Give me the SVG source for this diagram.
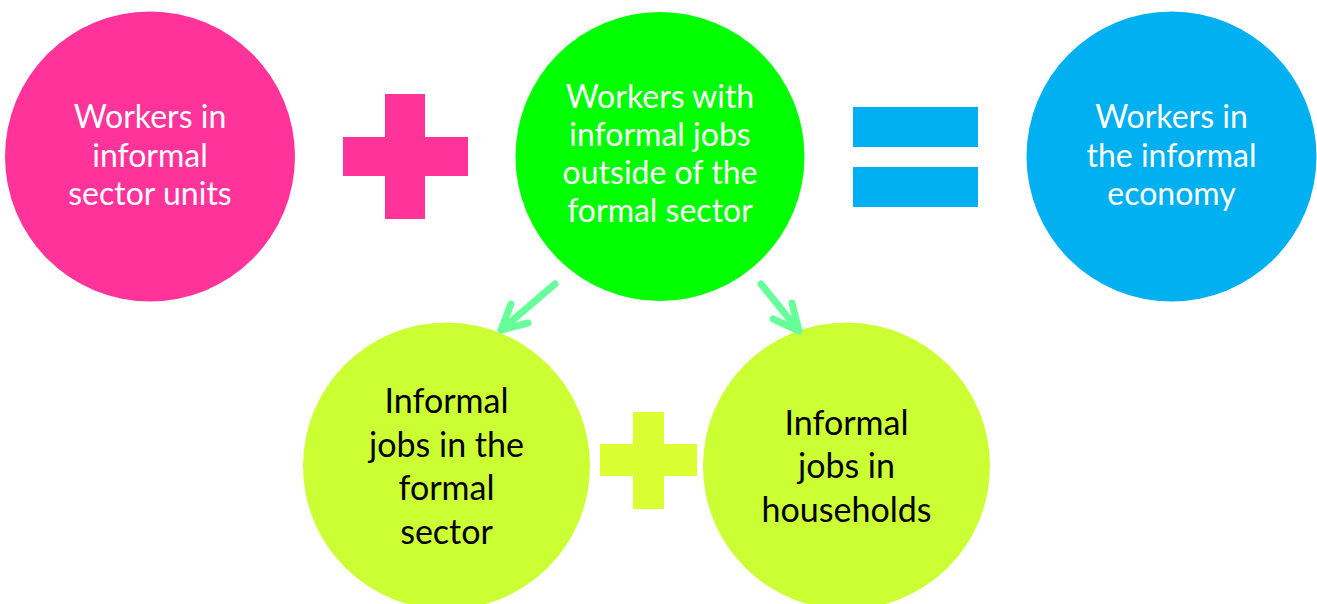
<svg xmlns="http://www.w3.org/2000/svg" width="1317" height="604" viewBox="0 0 1317 604">
<style>
.t{font-family:Lato,"Open Sans","Noto Sans",sans-serif;text-anchor:middle}
.w{fill:#FFFFFF;font-size:32px}
.k{fill:#000000;font-size:34px}
.arr{fill:none;stroke:#66FF99;stroke-width:7;stroke-linecap:round;stroke-linejoin:round}
</style>
<rect width="1317" height="604" fill="#FFFFFF"/>
<g id="node-informal-sector-units">
<circle cx="150" cy="156.5" r="145" fill="#FF3399"/>
<text class="t w" x="150" y="128">Workers in</text>
<text class="t w" x="150" y="166.5">informal</text>
<text class="t w" x="150" y="204.5">sector units</text>
</g>
<g id="op-plus-1" fill="#FF3399">
<rect x="385" y="94" width="40" height="125"/>
<rect x="343" y="137" width="125" height="39"/>
</g>
<g id="node-informal-jobs-outside">
<circle cx="660" cy="156.5" r="144.5" fill="#00FF00"/>
<text class="t w" x="660" y="107.5">Workers with</text>
<text class="t w" x="660" y="145.5">informal jobs</text>
<text class="t w" x="660" y="183.5">outside of the</text>
<text class="t w" x="660" y="222">formal sector</text>
</g>
<g id="op-equals" fill="#00B0F0">
<rect x="853" y="107" width="125" height="40"/>
<rect x="853" y="167" width="125" height="40"/>
</g>
<g id="node-informal-economy">
<circle cx="1171.5" cy="156.5" r="145" fill="#00B0F0"/>
<text class="t w" x="1171.5" y="128">Workers in</text>
<text class="t w" x="1171.5" y="166.5">the informal</text>
<text class="t w" x="1171.5" y="204.5">economy</text>
</g>
<g id="node-formal-sector-jobs">
<circle cx="446.5" cy="466" r="143.5" fill="#CCFF33"/>
<text class="t k" x="446.5" y="413">Informal</text>
<text class="t k" x="446.5" y="456.5">jobs in the</text>
<text class="t k" x="446.5" y="500">formal</text>
<text class="t k" x="446.5" y="544">sector</text>
</g>
<g id="op-plus-2" fill="#D9FF33">
<rect x="633" y="412" width="31" height="97"/>
<rect x="600" y="444" width="97" height="32"/>
</g>
<g id="node-households">
<circle cx="846.5" cy="466" r="143.5" fill="#CCFF33"/>
<text class="t k" x="846.5" y="434.5">Informal</text>
<text class="t k" x="846.5" y="478">jobs in</text>
<text class="t k" x="846.5" y="522">households</text>
</g>
<g id="connectors">
<path class="arr" d="M555,284 L501,330 M511,304 L501,330 L528,323"/>
<path class="arr" d="M761,284 L799,331 M792,303 L799,331 L773,319"/>
</g>
</svg>
